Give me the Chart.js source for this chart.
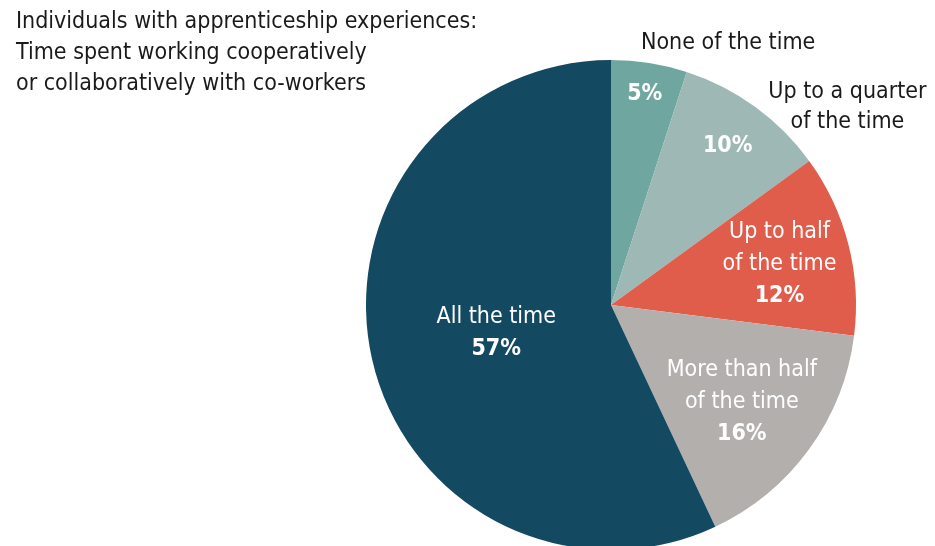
<!DOCTYPE html>
<html>
<head>
<meta charset="utf-8">
<script src="https://cdn.jsdelivr.net/npm/chart.js@4"></script>
<style>
  html, body { margin: 0; padding: 0; background: #fff; overflow: hidden; }
  #wrap { position: relative; width: 935px; height: 550px; }
  #title {
    position: absolute; left: 16px; top: 5px; z-index: 2;
    font-family: "Liberation Sans Narrow", "DejaVu Sans Condensed", Roboto, sans-serif;
    font-size: 23px; line-height: 31px; color: #1a1a1a;
  }
</style>
</head>
<body>
<div id="wrap">
  <div id="title">Individuals with apprenticeship experiences:<br>Time spent working cooperatively<br>or collaboratively with co-workers</div>
  <canvas id="pie" width="935" height="550"></canvas>
</div>
<script>
// donnees
const categories = ["None of the time", "Up to a quarter of the time", "Up to half of the time", "More than half of the time", "All the time"];
const shares = [5, 10, 12, 16, 57];
const labelLines = [[], [], ["Up to half", "of the time"], ["More than half", "of the time"], ["All the time"]];
const outsideLines = [["None of the time"], ["Up to a quarter", "of the time"], [], [], []];
const colors = ["#6fa7a0", "#9db8b5", "#e05d4b", "#b3afad", "#134a62"];

const FONT = '"Liberation Sans Narrow", "DejaVu Sans Condensed", Roboto, sans-serif';

// placement des etiquettes : fraction du rayon + petit decalage
const labelFrac = [0.88, 0.81, 0.71, 0.66, 0.48];
const outsideFrac = 1.1;
const outsideNudge = [[75, 4], [78, 20], [0, 0], [0, 0], [0, 0]];

const pieLabels = {
  id: "pieLabels",
  afterDatasetsDraw(chart) {
    const ctx = chart.ctx;
    const arcs = chart.getDatasetMeta(0).data;
    const lh = 32;
    ctx.save();
    ctx.textAlign = "center";
    ctx.textBaseline = "middle";
    arcs.forEach((arc, i) => {
      const { x, y, startAngle, endAngle, outerRadius } = arc.getProps(["x", "y", "startAngle", "endAngle", "outerRadius"], true);
      const mid = (startAngle + endAngle) / 2;

      // interieur : texte blanc + pourcentage en gras
      const lines = labelLines[i].map((t) => ({ t, bold: false }));
      lines.push({ t: shares[i] + "%", bold: true });
      const r = outerRadius * labelFrac[i];
      const cx = x + Math.cos(mid) * r;
      const cy = y + Math.sin(mid) * r + 2;
      const top = cy - ((lines.length - 1) * lh) / 2;
      ctx.fillStyle = "#ffffff";
      lines.forEach((l, k) => {
        ctx.font = (l.bold ? "bold " : "") + "23px " + FONT;
        ctx.fillText(l.t, cx, top + k * lh);
      });

      // exterieur : texte sombre
      if (outsideLines[i].length) {
        const ro = outerRadius * outsideFrac;
        const ox = x + Math.cos(mid) * ro + outsideNudge[i][0];
        const oy = y + Math.sin(mid) * ro + outsideNudge[i][1];
        const otop = oy - ((outsideLines[i].length - 1) * 30) / 2;
        ctx.fillStyle = "#1a1a1a";
        ctx.font = "23px " + FONT;
        outsideLines[i].forEach((t, k) => ctx.fillText(t, ox, otop + k * 30));
      }
    });
    ctx.restore();
  },
};

new Chart(document.getElementById("pie"), {
  type: "pie",
  data: {
    labels: categories,
    datasets: [{
      data: shares,
      backgroundColor: colors,
      borderWidth: 0,
    }],
  },
  options: {
    responsive: false,
    animation: false,
    layout: { padding: { top: 60, bottom: 0, left: 366, right: 79 } },
    plugins: {
      legend: { display: false },
      tooltip: { enabled: false },
    },
  },
  plugins: [pieLabels],
});
</script>
</body>
</html>
